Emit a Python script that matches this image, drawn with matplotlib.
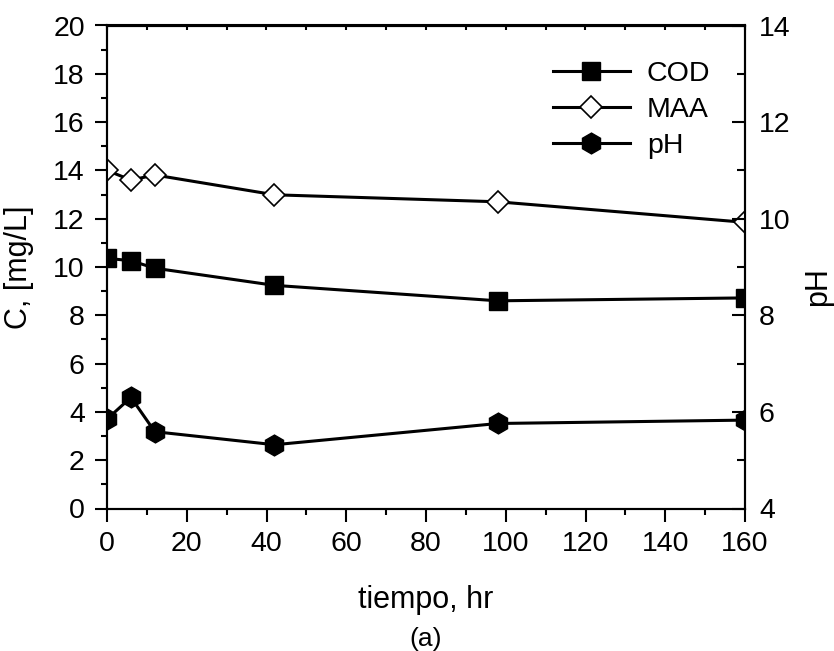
import matplotlib
matplotlib.use("Agg")
import matplotlib.pyplot as plt
from matplotlib.ticker import MultipleLocator

plt.rcParams['font.family'] = ['Liberation Sans', 'DejaVu Sans']

# Sampling times (hr) and measured values
tiempo = [0, 6, 12, 42, 98, 160]
cod = [10.36, 10.26, 9.95, 9.24, 8.60, 8.72]      # mg/L
maa = [14.0, 13.6, 13.81, 12.99, 12.70, 11.85]    # mg/L
ph = [5.85, 6.30, 5.59, 5.32, 5.76, 5.83]         # pH units

labels = ["COD", "MAA", "pH"]

W, H = 834, 651
fig = plt.figure(figsize=(W / 100, H / 100), dpi=100)
x0, x1, y_top, y_bot = 107, 745, 25.5, 508.5
ax = fig.add_axes([x0 / W, 1 - y_bot / H, (x1 - x0) / W, (y_bot - y_top) / H])
ax2 = ax.twinx()

lw = 2.2
h1, = ax.plot(tiempo, cod, color="black", lw=lw, marker="s", ms=12.5,
              mfc="black", mec="black", label=labels[0], zorder=3)
h2, = ax.plot(tiempo, maa, color="black", lw=lw, marker="D", ms=11,
              mfc="white", mec="black", mew=1.2, label=labels[1], zorder=3)
h3, = ax2.plot(tiempo, ph, color="black", lw=lw, marker="h", ms=15,
               mfc="black", mec="black", label=labels[2], zorder=3)

ax.set_xlim(0, 160)
ax.set_ylim(0, 20)
ax2.set_ylim(4, 14)

ax.xaxis.set_major_locator(MultipleLocator(20))
ax.xaxis.set_minor_locator(MultipleLocator(10))
ax.yaxis.set_major_locator(MultipleLocator(2))
ax.yaxis.set_minor_locator(MultipleLocator(1))
ax2.yaxis.set_major_locator(MultipleLocator(2))
ax2.yaxis.set_minor_locator(MultipleLocator(1))

for a in (ax, ax2):
    for s in a.spines.values():
        s.set_linewidth(1.5)

fs = 20.5
ax.tick_params(axis="both", which="major", direction="out", length=9,
               width=1.5, labelsize=fs, top=False, right=False)
ax.tick_params(axis="both", which="minor", direction="out", length=4.5,
               width=1.5, top=False, right=False)
ax.tick_params(axis="x", which="major", pad=7)
ax.tick_params(axis="y", which="major", pad=7)
ax2.tick_params(axis="y", which="major", direction="in", length=9.5,
                width=1.5, labelsize=fs, pad=10)
ax2.tick_params(axis="y", which="minor", direction="in", length=5.5,
                width=1.5)

# inward ticks along the top edge
top = ax.secondary_xaxis("top")
top.xaxis.set_major_locator(MultipleLocator(10))
top.tick_params(axis="x", which="major", direction="in", length=3.6,
                width=1.5, labeltop=False)
top.spines["top"].set_linewidth(1.5)

ax.set_xlabel("tiempo, hr", fontsize=22)
ax.xaxis.set_label_coords(0.5, -0.158)
ax.xaxis.label.set_verticalalignment("top")
ax.set_ylabel("C, [mg/L]", fontsize=22)
ax.yaxis.set_label_coords(-0.114, 0.5)
ax2.set_ylabel("pH", fontsize=22)
ax2.yaxis.set_label_coords(1.091, 0.46)

leg = ax2.legend([h1, h2, h3], labels, loc="upper left",
                 bbox_to_anchor=(0.699, 0.927), frameon=False, fontsize=fs,
                 borderpad=0, borderaxespad=0, handlelength=2.7,
                 handletextpad=0.6, labelspacing=0.35)

fig.text(426 / W, 1 - 646 / H, "(a)", ha="center", va="baseline", fontsize=19)

fig.savefig("out.png", dpi=100)
